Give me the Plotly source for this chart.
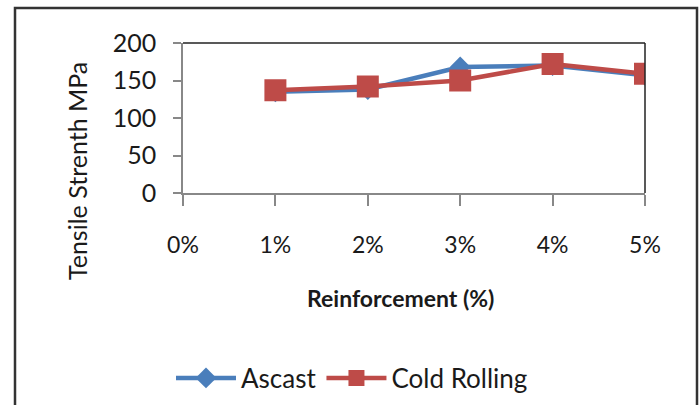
import plotly.graph_objects as go

x_vals = [1, 2, 3, 4, 5]
ascast = [135, 138, 168, 170, 157]
cold_rolling = [137, 142, 150, 172, 159]
x_tick_vals = [0, 1, 2, 3, 4, 5]
x_tick_text = ["0%", "1%", "2%", "3%", "4%", "5%"]
y_tick_vals = [0, 50, 100, 150, 200]

FONT = "Lato"
L, R, T, B = 183, 55, 43, 212
W, H = 700, 405
pw, ph = W - L - R, H - T - B

def px_x(px):
    return (px - L) / pw

def px_y(py):
    return (H - B - py) / ph

fig = go.Figure()
fig.add_trace(go.Scatter(
    x=x_vals, y=ascast, name="Ascast", mode="lines+markers",
    line=dict(color="#4a7ebb", width=4.5),
    marker=dict(symbol="diamond", size=16, color="#4a7ebb"),
))
fig.add_trace(go.Scatter(
    x=x_vals, y=cold_rolling, name="Cold Rolling", mode="lines+markers",
    line=dict(color="#be4b48", width=4.5),
    marker=dict(symbol="square", size=22, color="#be4b48"),
))

fig.update_layout(
    width=W, height=H,
    margin=dict(l=L, r=R, t=T, b=B, autoexpand=False),
    paper_bgcolor="white", plot_bgcolor="white",
    font=dict(family=FONT, color="#1a1a1a"),
    showlegend=True,
    legend=dict(orientation="h", x=px_x(352), xanchor="center",
                y=px_y(378), yanchor="middle",
                font=dict(size=26, family=FONT, color="#1a1a1a"),
                itemwidth=60, tracegroupgap=0),
    xaxis=dict(range=[0, 5], tickmode="array", tickvals=x_tick_vals,
               ticktext=x_tick_text, ticks="outside", ticklen=11,
               tickcolor="#888", tickwidth=1.5, showline=True,
               linecolor="#888", linewidth=1.5, mirror=False,
               showgrid=False, zeroline=False,
               tickfont=dict(size=23, family=FONT),
               ticklabelstandoff=20),
    yaxis=dict(range=[0, 200], tickmode="array", tickvals=y_tick_vals,
               ticks="outside", ticklen=8, tickcolor="#888", tickwidth=1.5,
               showline=True, linecolor="#888", linewidth=1.5,
               showgrid=False, zeroline=False,
               tickfont=dict(size=25, family=FONT),
               ticklabelstandoff=12),
)

# plot area top/right frame
fig.add_shape(type="line", xref="paper", yref="paper", x0=0, x1=1, y0=1, y1=1,
              line=dict(color="#222", width=1.5))
fig.add_shape(type="line", xref="paper", yref="paper", x0=1, x1=1, y0=0, y1=1,
              line=dict(color="#222", width=1.5))
# outer chart border
fig.add_shape(type="rect", xref="paper", yref="paper",
              x0=px_x(15), x1=px_x(697), y0=px_y(8), y1=px_y(420),
              line=dict(color="#333", width=2.5), layer="below")

fig.add_annotation(text="Tensile Strenth MPa", xref="paper", yref="paper",
                   x=px_x(77), y=px_y(171), textangle=-90, showarrow=False,
                   font=dict(size=25, family=FONT, color="#1a1a1a"),
                   xanchor="center", yanchor="middle")
fig.add_annotation(text="<b>Reinforcement (%)</b>", xref="paper", yref="paper",
                   x=px_x(400), y=px_y(298), showarrow=False,
                   font=dict(size=23, family=FONT, color="#1a1a1a"),
                   xanchor="center", yanchor="middle")

fig.write_html("out.html", post_script="document.body.style.margin='0';",
               config={"displayModeBar": False})
